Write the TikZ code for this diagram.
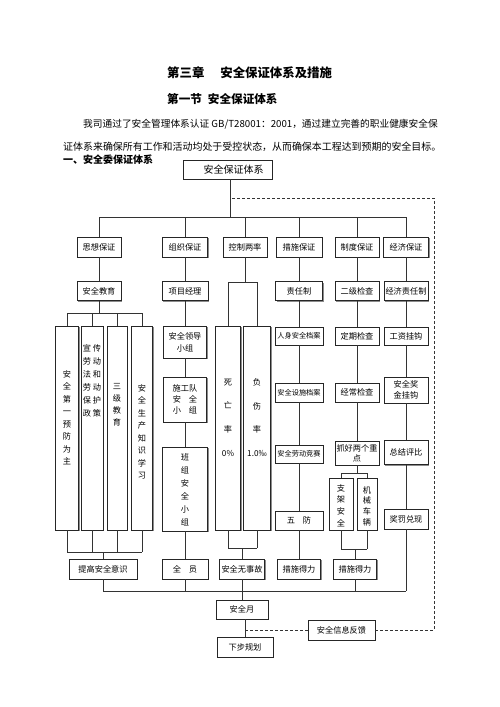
\documentclass[tikz,border=0pt]{standalone}
\usepackage{fontspec}
\setmainfont{Noto Sans CJK SC}
\usetikzlibrary{shadows}

\begin{document}
\begin{tikzpicture}[x=1pt,y=-1pt,
  box/.style={draw=black!85, line width=0.8pt, fill=white, inner sep=0.5pt,
    minimum width=44pt, minimum height=19pt, align=center,
    font=\fontsize{8.2}{10}\selectfont,
    drop shadow={shadow xshift=1.3pt, shadow yshift=-1.3pt, fill=black!45, opacity=1}},
  head/.style={box, minimum height=20pt},
  tall/.style={box, minimum height=204pt},
  vtext/.style={inner sep=0pt, align=center, font=\fontsize{8.2}{12.5}\selectfont},
  conn/.style={line width=0.7pt, draw=black!80},
  feedback/.style={conn, dash pattern=on 3pt off 2pt}]
\fill[white] (0,0) rectangle (500,707);
\useasboundingbox (0,0) rectangle (500,707);

% headings
\node[anchor=west, inner sep=0pt, font=\fontsize{12.4}{14}\selectfont\bfseries] (chap) at (167,73) {第三章\hspace{16pt}安全保证体系及措施};
\node[anchor=west, inner sep=0pt, font=\fontsize{11.6}{14}\selectfont\bfseries] (sec) at (167,99) {第一节\hspace{6pt}安全保证体系};
\node[anchor=west, inner sep=0pt, font=\fontsize{9.7}{12}\selectfont] (par1) at (83,124) {我司通过了安全管理体系认证 GB/T28001：2001，通过建立完善的职业健康安全保};
\node[anchor=west, inner sep=0pt, font=\fontsize{9.95}{12}\selectfont] (par2) at (63,147) {证体系来确保所有工作和活动均处于受控状态，从而确保本工程达到预期的安全目标。};
\node[anchor=west, inner sep=0pt, font=\fontsize{10}{12}\selectfont\bfseries] (sub) at (63,160) {一、安全委保证体系};

% top
\node[box, minimum width=89pt, font=\fontsize{10}{12}\selectfont] (tixi) at (227.5,169.5) {\hspace*{12pt}安全保证体系};

% first row
\node[head] (sixiang) at (99,247) {思想保证};
\node[head, minimum width=45pt] (zuzhi) at (185,247) {组织保证};
\node[head] (kongzhi) at (245,247) {控制两率};
\node[head, minimum width=46pt] (cuoshi) at (299,247) {措施保证};
\node[head] (zhidu) at (357,247) {制度保证};
\node[head, minimum width=45pt] (jingji) at (406,247) {经济保证};

% second row
\node[box] (jiaoyu) at (99,291) {安全教育};
\node[box, minimum width=46pt] (jingli) at (185,291) {项目经理};
\node[box, minimum width=47pt] (zeren) at (299,291) {责任制};
\node[box] (erji) at (357,291) {二级检查};
\node[box] (jzeren) at (406,291) {经济责任制};

% sixiang column
\node[tall, minimum width=23pt] (diyi) at (67,428) {};
\node[tall, minimum width=22pt] (xuanchuan) at (92,428) {};
\node[tall, minimum width=20pt] (sanji) at (117,428) {};
\node[tall, minimum width=21pt] (zhishi) at (142,428) {};
\node[vtext] (t-diyi) at (67,417.5) {安\\全\\第\\一\\预\\防\\为\\主};
\node[vtext, font=\fontsize{8.2}{13}\selectfont] (t-xuan) at (92,380.5) {宣\hspace{2pt}传\\劳\hspace{2pt}动\\法\hspace{2pt}和\\劳\hspace{2pt}动\\保\hspace{2pt}护\\政\hspace{2pt}策};
\node[vtext, font=\fontsize{8.2}{12}\selectfont] (t-sanji) at (117,405) {三\\级\\教\\育};
\node[vtext] (t-zhishi) at (142,432) {安\\全\\生\\产\\知\\识\\学\\习};
\node[head, minimum width=68pt] (tisheng) at (103,569) {提高安全意识};

% zuzhi column
\node[box, minimum width=43pt, minimum height=32pt, font=\fontsize{8.2}{12}\selectfont] (lingdao) at (185,342) {安全领导\\小组};
\node[box, minimum width=43pt, minimum height=45pt, font=\fontsize{8.2}{11}\selectfont] (shigong) at (185,399.5) {施工队\\安\hspace{8pt}全\\小\hspace{8pt}组};
\node[box, minimum width=45pt, minimum height=84pt] (banzu) at (185,489) {};
\node[vtext, font=\fontsize{8.2}{13}\selectfont] (t-banzu) at (185,489.5) {班\\组\\安\\全\\小\\组};
\node[head, minimum width=46pt] (quanyuan) at (185,569) {全\hspace{8pt}员};

% kongzhi column
\node[tall, minimum width=25pt] (siwang) at (228,428) {};
\node[tall, minimum width=27pt] (shangwang) at (257,428) {};
\node[vtext, font=\fontsize{8.2}{23.7}\selectfont] (t-siwang) at (228,417.5) {死\\亡\\率\\0\%};
\node[vtext, font=\fontsize{8.2}{23.7}\selectfont] (t-shang) at (257,417.5) {负\\伤\\率\\1.0‰};
\node[head, minimum width=45pt] (wushigu) at (242,569) {安全无事故};

% cuoshi column
\node[box, minimum width=48pt, minimum height=18pt, font=\fontsize{7.2}{9}\selectfont] (renshen) at (299,336) {人身安全档案};
\node[box, minimum width=48pt, font=\fontsize{7.2}{9}\selectfont] (sheshi) at (299,392.5) {安全设施档案};
\node[box, minimum width=48pt, minimum height=18pt, font=\fontsize{7.2}{9}\selectfont] (jingsai) at (299,454) {安全劳动竞赛};
\node[box, minimum width=48pt] (wufang) at (299,520.5) {五\hspace{8pt}防};
\node[head, minimum width=43pt] (deli1) at (299,569) {措施得力};

% zhidu column
\node[box, minimum height=18pt] (dingqi) at (357,336) {定期检查};
\node[box] (jingchang) at (357,392.5) {经常检查};
\node[box, minimum height=24pt, font=\fontsize{8.2}{10}\selectfont] (zhuahao) at (357,453) {抓好两个重\\点};
\node[box, minimum width=24pt, minimum height=52pt] (zhijia) at (341,504) {};
\node[box, minimum width=20pt, minimum height=52pt] (jixie) at (367,504) {};
\node[vtext, font=\fontsize{8.2}{11.7}\selectfont] (t-zhijia) at (341,505.5) {支\\架\\安\\全};
\node[vtext, font=\fontsize{8.2}{10.7}\selectfont] (t-jixie) at (367,506) {机\\械\\车\\辆};
\node[head, minimum width=43pt] (deli2) at (355,569) {措施得力};

% jingji column
\node[box, minimum height=18pt] (gongzi) at (406,336) {工资挂钩};
\node[box, minimum height=26pt, font=\fontsize{8.2}{11}\selectfont] (jiangjin) at (406,390) {安全奖\\金挂钩};
\node[box, minimum height=24pt] (zongjie) at (406,452.5) {总结评比};
\node[head] (jiangfa) at (406,519) {奖罚兑现};

% bottom
\node[box, minimum width=52pt] (yue) at (242,609.5) {安全月};
\node[head, minimum width=56pt] (xiabu) at (245,647) {下步规划};
\node[head, minimum width=67pt] (fankui) at (341.5,630) {安全信息反馈};

% trunk and upper bus
\coordinate (bus1) at (230,217);
\coordinate (d1) at (230,198);
\coordinate (d2) at (434,198);
\draw[conn] (tixi.south -| bus1) -- (bus1);
\draw[conn] (sixiang.north |- bus1) -- (jingji.north |- bus1);
\foreach \n in {sixiang,zuzhi,kongzhi,cuoshi,zhidu,jingji}
  \draw[conn] (\n.north) -- (\n.north |- bus1);

% sixiang
\coordinate (f1) at (99,313);
\coordinate (g1) at (103,552);
\draw[conn] (sixiang) -- (jiaoyu);
\draw[conn] (jiaoyu) -- (f1);
\draw[conn] (diyi.north |- f1) -- (zhishi.north |- f1);
\draw[conn] (diyi.south |- g1) -- (zhishi.south |- g1);
\foreach \n in {diyi,xuanchuan,sanji,zhishi}{
  \draw[conn] (\n.north) -- (\n.north |- f1);
  \draw[conn] (\n.south) -- (\n.south |- g1);
}
\draw[conn] (g1) -- (tisheng);

% zuzhi
\draw[conn] (zuzhi) -- (jingli);
\draw[conn] (jingli) -- (lingdao);
\draw[conn] (lingdao) -- (shigong);
\draw[conn] (shigong) -- (banzu);
\draw[conn] (banzu) -- (quanyuan);

% kongzhi
\coordinate (f3) at (245,282);
\coordinate (g3) at (242,548);
\draw[conn] (kongzhi) -- (f3);
\draw[conn] (siwang.north |- f3) -- (shangwang.north |- f3);
\draw[conn] (siwang.south |- g3) -- (shangwang.south |- g3);
\foreach \n in {siwang,shangwang}{
  \draw[conn] (\n.north) -- (\n.north |- f3);
  \draw[conn] (\n.south) -- (\n.south |- g3);
}
\draw[conn] (g3) -- (wushigu);

% cuoshi
\draw[conn] (cuoshi) -- (zeren);
\draw[conn] (zeren) -- (renshen);
\draw[conn] (renshen) -- (sheshi);
\draw[conn] (sheshi) -- (jingsai);
\draw[conn] (jingsai) -- (wufang);
\draw[conn] (wufang) -- (deli1);

% zhidu
\coordinate (f5) at (357,473);
\coordinate (g5) at (355,549);
\draw[conn] (zhidu) -- (erji);
\draw[conn] (erji) -- (dingqi);
\draw[conn] (dingqi) -- (jingchang);
\draw[conn] (jingchang) -- (zhuahao);
\draw[conn] (zhuahao) -- (f5);
\draw[conn] (zhijia.north |- f5) -- (jixie.north |- f5);
\draw[conn] (zhijia.south |- g5) -- (jixie.south |- g5);
\foreach \n in {zhijia,jixie}{
  \draw[conn] (\n.north) -- (\n.north |- f5);
  \draw[conn] (\n.south) -- (\n.south |- g5);
}
\draw[conn] (g5) -- (deli2);

% jingji
\draw[conn] (jingji) -- (jzeren);
\draw[conn] (jzeren) -- (gongzi);
\draw[conn] (gongzi) -- (jiangjin);
\draw[conn] (jiangjin) -- (zongjie);
\draw[conn] (zongjie) -- (jiangfa);

% lower bus
\coordinate (bus2) at (242,591);
\draw[conn] (tisheng.south |- bus2) -- (jiangfa.south |- bus2);
\foreach \n in {tisheng,quanyuan,wushigu,deli2,jiangfa}
  \draw[conn] (\n.south) -- (\n.south |- bus2);
\draw[conn] (bus2) -- (yue);
\draw[conn] (xiabu.north) -- (xiabu.north |- yue.south);

% feedback loop
\coordinate (fb) at (245,630);
\draw[feedback] (fankui.west) -- (fb);
\draw[feedback] (fankui.east) -| (d2) -- (d1);
\end{tikzpicture}
\end{document}
